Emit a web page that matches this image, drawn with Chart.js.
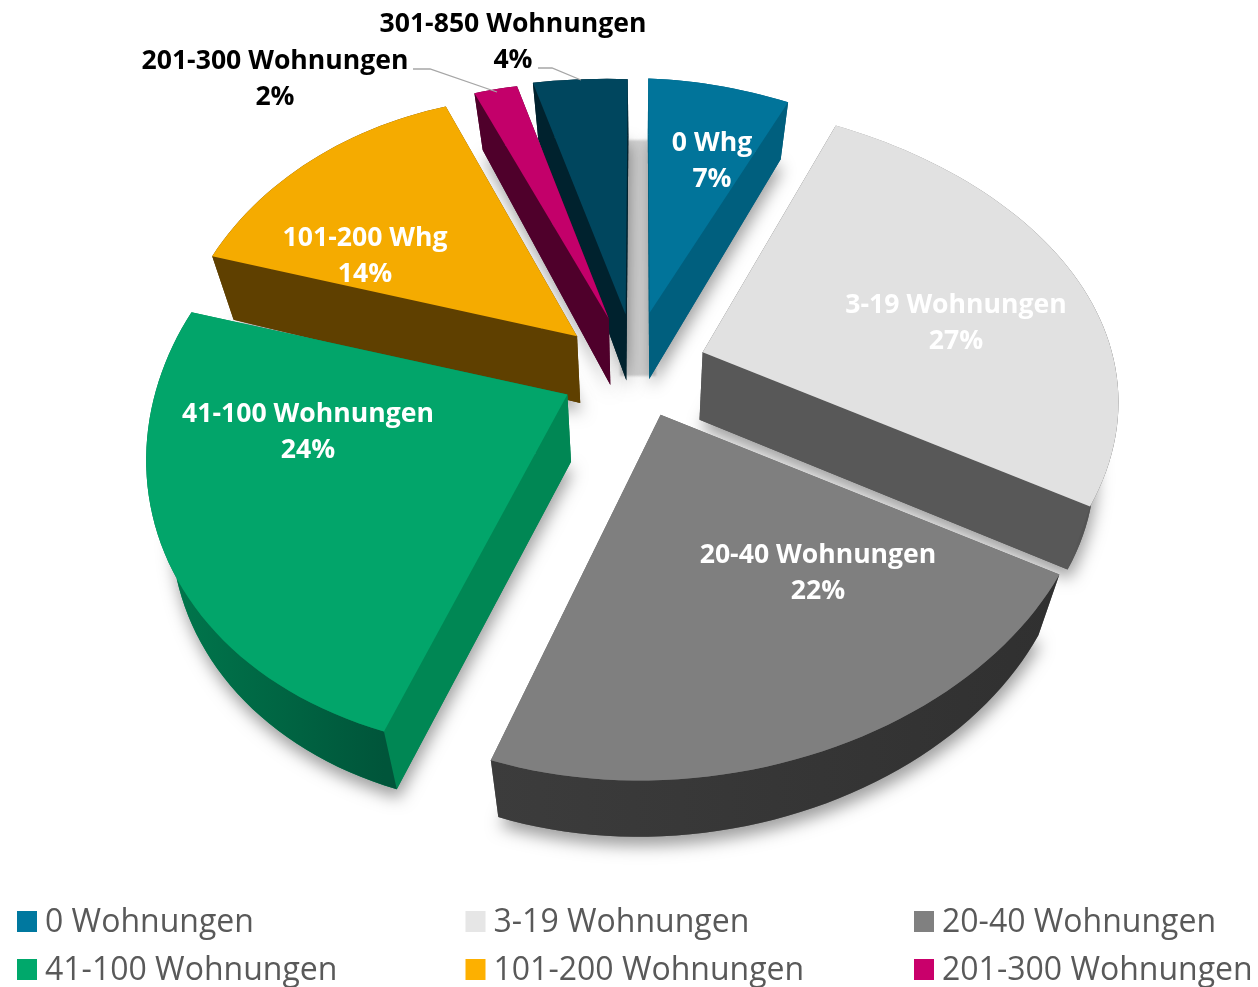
<!DOCTYPE html>
<html>
<head>
<meta charset="utf-8">
<script src="https://cdn.jsdelivr.net/npm/chart.js@4"></script>
<style>
  html, body { margin: 0; background: #fff; overflow: hidden; }
  canvas { display: block; }
</style>
</head>
<body>
<canvas id="chart" width="1258" height="987"></canvas>
<script>
const categories = ["0 Wohnungen", "3-19 Wohnungen", "20-40 Wohnungen", "41-100 Wohnungen", "101-200 Wohnungen", "201-300 Wohnungen", "301-850 Wohnungen"];
const sliceNames = ["0 Whg", "3-19 Wohnungen", "20-40 Wohnungen", "41-100 Wohnungen", "101-200 Whg", "201-300 Wohnungen", "301-850 Wohnungen"];
const values = [7, 27, 22, 24, 14, 2, 4];
const topColors = ["#01749a", "#e1e1e1", "#7f7f7f", "#02a56a", "#f5ab00", "#c3006a", "#00465e"];
const sideColors = ["#005f7e", "#585858", "#686868", "#008754", "#5f4000", "#4f002b", "#00222e"];
const wallLeft = ["#005f7e", "#9a9a9a", "#3c3c3c", "#007a4e", "#5f4000", "#4f002b", "#00222e"];
const wallRight = ["#005f7e", "#4a4a4a", "#303030", "#00553a", "#5f4000", "#4f002b", "#00222e"];
const legendColors = ["#00789f", "#e6e6e6", "#808080", "#00a86b", "#fdb000", "#c9006b", "#00465e"];

const explode = 0.19;
// small per slice corrections, the original is not a clean projection
const shiftX = [0, -6, -1, 3, -1, -1, 2];
const shiftY = [0, 4, -3, 4, 7, 4, 2];
const stretchY = [1, 1.04, 1, 1, 1, 1, 1];

// tilted plane -> screen, u/v are in pie radii
function project(u, v, i) {
  const w = 1 - 0.16 * v;
  const far = Math.max(0, Math.min(1, (-v - 0.3) / 0.85));
  const width = u < 0 ? 0.2 : 0.3;
  const pinch = 11 * far * Math.exp(-(u / width) * (u / width));
  return {
    x: 635 + 10 * v + u * 410 / w + pinch + shiftX[i],
    y: 365 + 288 * v / w - u * (10 + 18 * v) + shiftY[i]
  };
}
function drop(p, v) {
  return { x: 640 + (p.x - 640) * 0.95, y: p.y + 68 - 10 * Math.abs(v) };
}

function slicePoints(arc) {
  const { startAngle, endAngle } = arc.getProps(["startAngle", "endAngle"], true);
  const mid = (startAngle + endAngle) / 2;
  const ou = Math.cos(mid) * explode, ov = Math.sin(mid) * explode;
  const ring = [];
  const steps = Math.max(4, Math.ceil((endAngle - startAngle) / 0.03));
  for (let i = 0; i <= steps; i++) {
    const a = startAngle + (endAngle - startAngle) * i / steps;
    ring.push({ u: ou + Math.cos(a), v: ov + Math.sin(a) });
  }
  return { apex: { u: ou, v: ov }, ring };
}

function fillPoly(ctx, pts, fill) {
  ctx.beginPath();
  pts.forEach((p, i) => i ? ctx.lineTo(p.x, p.y) : ctx.moveTo(p.x, p.y));
  ctx.closePath();
  ctx.fillStyle = fill;
  ctx.fill();
}

const pie3d = {
  id: "pie3d",
  beforeDatasetDraw(chart, args) {
    const ctx = chart.ctx;
    const arcs = args.meta.data;
    const slices = arcs.map((arc, i) => ({ i, ...slicePoints(arc) }));
    slices.forEach(s => {
      s.depth = s.ring.reduce((t, q) => t + q.v, s.apex.v) / (s.ring.length + 1);
    });

    // grey cast shadow in the gap at the top
    ctx.save();
    ctx.filter = "blur(1px)";
    ctx.fillStyle = "#d2d2d2";
    ctx.fillRect(620, 140, 36, 236);
    ctx.restore();

    // back slices first
    slices.sort((a, b) => a.depth - b.depth).forEach(s => {
      const tip = project(s.apex.u, s.apex.v, s.i);
      const top = q => {
        const p = project(q.u, q.v, s.i);
        return { x: p.x, y: tip.y + (p.y - tip.y) * stretchY[s.i] };
      };
      const bot = q => drop(top(q), q.v);
      const outline = [s.apex, ...s.ring];

      // soft shadow under the body
      ctx.save();
      ctx.shadowColor = "rgba(0,0,0,0.38)";
      ctx.shadowBlur = 16;
      ctx.shadowOffsetX = 2;
      ctx.shadowOffsetY = 9;
      fillPoly(ctx, outline.map(bot), sideColors[s.i]);
      ctx.restore();

      const first = s.ring[0], last = s.ring[s.ring.length - 1];
      const sideA = [s.apex, first], sideB = [s.apex, last];
      const quad = e => [top(e[0]), top(e[1]), bot(e[1]), bot(e[0])];
      const xs = s.ring.map(q => top(q).x);
      const grad = ctx.createLinearGradient(Math.min(...xs), 0, Math.max(...xs), 0);
      grad.addColorStop(0, wallLeft[s.i]);
      grad.addColorStop(1, wallRight[s.i]);
      const walls = [
        { pts: quad(sideA), fill: sideColors[s.i], d: (s.apex.v + first.v) / 2 },
        { pts: quad(sideB), fill: sideColors[s.i], d: (s.apex.v + last.v) / 2 },
        { pts: [...s.ring.map(top), ...s.ring.slice().reverse().map(bot)], fill: grad, d: s.depth + 0.3 }
      ];
      walls.sort((a, b) => a.d - b.d).forEach(w => fillPoly(ctx, w.pts, w.fill));

      fillPoly(ctx, outline.map(top), arcs[s.i].options.backgroundColor);
    });
    return false;
  },
  afterDraw(chart) {
    const ctx = chart.ctx;
    // leader lines of the two outside labels
    ctx.strokeStyle = "#a6a6a6";
    ctx.lineWidth = 1.3;
    [[[413, 69], [430, 69], [497, 92]], [[538, 68], [552, 68], [581, 80]]].forEach(line => {
      ctx.beginPath();
      line.forEach((p, i) => i ? ctx.lineTo(p[0], p[1]) : ctx.moveTo(p[0], p[1]));
      ctx.stroke();
    });

    ctx.textAlign = "center";
    ctx.textBaseline = "middle";
    ctx.font = "700 26.6px 'Open Sans'";
    const spots = [[712, 143], [956, 305], [818, 555], [308, 414], [365, 238], [275, 61], [513, 24]];
    values.forEach((v, i) => {
      ctx.fillStyle = i >= 5 ? "#000000" : "#ffffff";
      ctx.fillText(sliceNames[i], spots[i][0], spots[i][1]);
      ctx.fillText(v + "%", spots[i][0], spots[i][1] + 36);
    });

    // legend: three columns, the last row runs off the picture
    ctx.textAlign = "left";
    ctx.font = "400 32px 'Open Sans'";
    categories.forEach((name, i) => {
      const x = 17 + (i % 3) * 448.5;
      const y = 921 + Math.floor(i / 3) * 48;
      ctx.fillStyle = legendColors[i];
      ctx.fillRect(x, y - 10, 20, 21);
      ctx.fillStyle = "#595959";
      ctx.fillText(name, x + 28, y + 2);
    });
  }
};

new Chart(document.getElementById("chart"), {
  type: "pie",
  data: {
    labels: categories,
    datasets: [{ data: values, backgroundColor: topColors, borderWidth: 0 }]
  },
  options: {
    responsive: false,
    animation: false,
    plugins: { legend: { display: false }, tooltip: { enabled: false } }
  },
  plugins: [pie3d]
});
</script>
</body>
</html>
